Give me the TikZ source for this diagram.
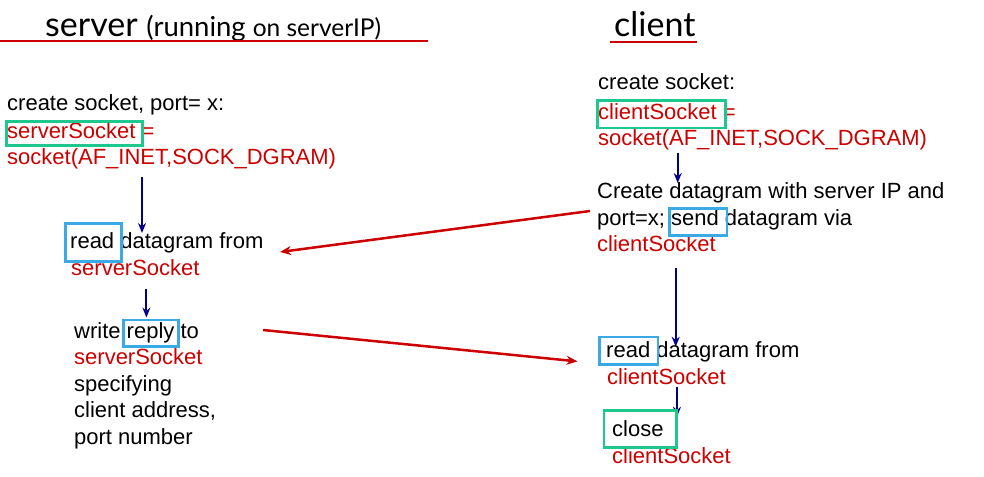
\documentclass[tikz,border=0pt]{standalone}
\usepackage{fontspec}
\setmainfont{Liberation Sans}
\newfontfamily\titlefont{Lato}
\usetikzlibrary{arrows.meta}
\definecolor{sred}{RGB}{204,0,0}
\definecolor{sblue}{RGB}{58,170,230}
\definecolor{sgreen}{RGB}{30,200,140}
\definecolor{snavy}{RGB}{0,0,140}
\tikzset{
  txt/.style={anchor=base west, inner sep=0pt, font=\fontsize{22}{26}\selectfont},
  rtxt/.style={txt, text=sred},
  gbox/.style={draw=sgreen, line width=2.5pt, inner sep=0pt},
  bbox/.style={draw=sblue, line width=2.5pt, inner sep=0pt},
  flow/.style={draw=snavy, line width=2pt, -{Stealth[length=10pt,width=8pt]}},
  msg/.style={draw=sred, line width=2.5pt, -{Stealth[length=11pt,width=9pt]}},
  uline/.style={draw=sred, line width=2pt},
}
\begin{document}
\begin{tikzpicture}[x=1pt,y=-1pt]
\useasboundingbox[fill=white] (0,0) rectangle (984,476);
% titles
\node[anchor=base west, inner sep=0pt] (tserver) at (45,37) {\titlefont\fontsize{34}{34}\selectfont server \fontsize{27.5}{27}\selectfont(running \fontsize{24.5}{24}\selectfont on serverIP)};
\coordinate (ul1a) at (0,41); \coordinate (ul1b) at (428,41);
\draw[uline] (ul1a) -- (ul1b);
\node[anchor=base west, inner sep=0pt] (tclient) at (614,37) {\titlefont\fontsize{34}{34}\selectfont client};
\coordinate (ul2a) at (610,42); \coordinate (ul2b) at (697,42);
\draw[uline] (ul2a) -- (ul2b);
% server side
\node[txt] (s1) at (7,110.7) {create socket, port= x:};
\node[rtxt] (s2) at (7,139) {serverSocket =};
\node[rtxt] (s3) at (7,164.5) {socket(AF\_INET,SOCK\_DGRAM)};
\node[gbox, anchor=north west, minimum width=136pt, minimum height=24pt] (g1) at (5,120) {};
\coordinate (a1s) at (142,177); \coordinate (a1e) at (142,233);
\draw[flow] (a1s) -- (a1e);
\node[txt] (r1) at (70,248) {read datagram from};
\node[rtxt] (r2) at (71,275.7) {serverSocket};
\node[bbox, anchor=north west, minimum width=56pt, minimum height=38pt] (b1) at (64,222) {};
\coordinate (a2s) at (146.4,289); \coordinate (a2e) at (146.4,317.5);
\draw[flow] (a2s) -- (a2e);
\node[txt] (w1) at (74,338) {write reply to};
\node[rtxt] (w2) at (74,364.5) {serverSocket};
\node[txt] (w3) at (74,391) {specifying};
\node[txt] (w4) at (74,417.5) {client address,};
\node[txt] (w5) at (74,444) {port number};
\node[bbox, anchor=north west, minimum width=55pt, minimum height=26.4pt] (b2) at (122,318.6) {};
% client side
\node[txt] (c1) at (598,89.3) {create socket:};
\node[rtxt] (c2) at (598,119.3) {clientSocket =};
\node[rtxt] (c3) at (598,145) {socket(AF\_INET,SOCK\_DGRAM)};
\node[gbox, anchor=north west, minimum width=128pt, minimum height=27.4pt] (g2) at (596,99.3) {};
\coordinate (a3s) at (677.7,153); \coordinate (a3e) at (677.7,183);
\draw[flow] (a3s) -- (a3e);
\node[txt] (d1) at (597,198) {Create datagram with server IP and};
\node[txt] (d2) at (597,225) {port=x; send datagram via};
\node[rtxt] (d3) at (597,251.7) {clientSocket};
\node[bbox, anchor=north west, minimum width=57.7pt, minimum height=27pt] (b3) at (668,207) {};
\coordinate (a4s) at (675.7,268); \coordinate (a4e) at (675.7,346.7);
\draw[flow] (a4s) -- (a4e);
\node[txt] (e1) at (606,357.3) {read datagram from};
\node[rtxt] (e2) at (607,384) {clientSocket};
\node[bbox, anchor=north west, minimum width=58.7pt, minimum height=27.6pt] (b4) at (598,335.7) {};
\coordinate (a5s) at (677,386.7); \coordinate (a5e) at (677,416.7);
\draw[flow] (a5s) -- (a5e);
\node[txt] (f1) at (612,436.7) {close};
\node[rtxt] (f2) at (612,463) {clientSocket};
\node[gbox, anchor=north west, minimum width=72.3pt, minimum height=36.7pt] (g3) at (602.7,409.3) {};
% messages
\coordinate (m1s) at (590,211); \coordinate (m1e) at (280,252);
\draw[msg] (m1s) -- (m1e);
\coordinate (m2s) at (263,330); \coordinate (m2e) at (577.5,361.4);
\draw[msg] (m2s) -- (m2e);
\end{tikzpicture}
\end{document}
